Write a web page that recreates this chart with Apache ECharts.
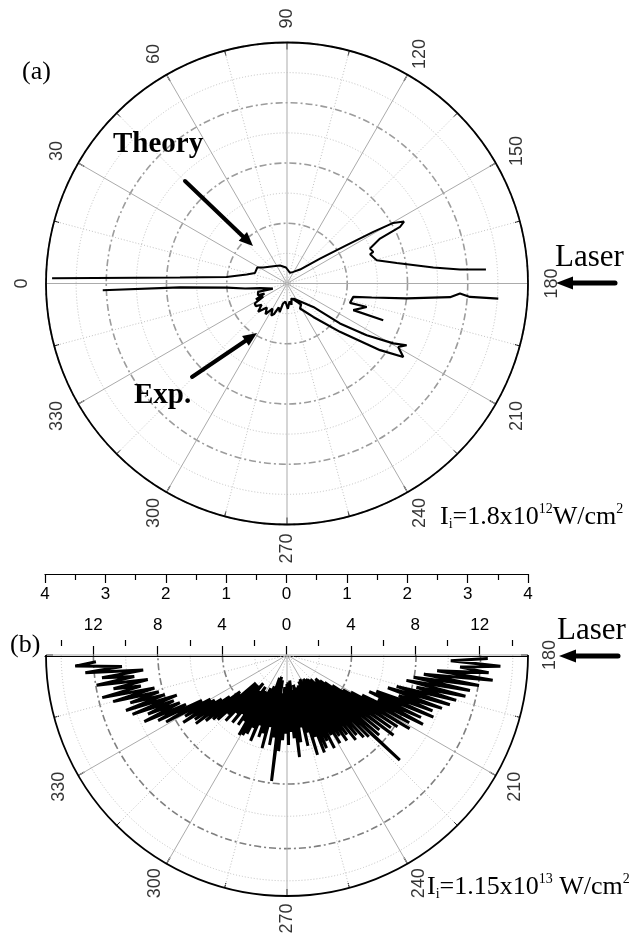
<!DOCTYPE html>
<html>
<head>
<meta charset="utf-8">
<script src="https://cdn.jsdelivr.net/npm/echarts@6.0.0/dist/echarts.min.js"></script>
<style>
html, body { margin: 0; padding: 0; background: #fff; }
#chart { width: 633px; height: 938px; }
</style>
</head>
<body>
<div id="chart"></div>
<script>
// (a) curves: [angle (deg), radius]
const theoryCurve = [
  [1.3, 3.90], [3.2, 1.78], [6.2, 1.01], [12.6, 0.685], [18.3, 0.56], [28.3, 0.56],
  [34, 0.475], [51.6, 0.366], [68.7, 0.32], [86.4, 0.266], [105.8, 0.183], [118.5, 0.22],
  [132.9, 0.317], [142.9, 0.687], [147.3, 1.177], [149.1, 1.669], [150.3, 2.03], [152.1, 2.198],
  [153.4, 2.098], [154.2, 1.715], [157.1, 1.495], [159.9, 1.525], [160.6, 1.461], [165.4, 1.538],
  [169.4, 1.853], [173.8, 2.443], [175.4, 2.88], [176, 3.31]
];
const expRightCurve = [
  [184.1, 3.516], [184.2, 3.045], [183.3, 2.876], [184.8, 2.715], [187.1, 2.0], [189.4, 1.425],
  [191.4, 1.123], [197.1, 1.094], [196.4, 1.379], [201.9, 1.186], [200.9, 1.71]
];
const expMainCurve = [
  [247.2, 0.27], [221.7, 0.584], [217.0, 1.10], [213.0, 1.577], [209.4, 2.026], [207.3, 2.235],
  [209.7, 2.126], [212.3, 2.283], [215.6, 1.90], [222.4, 1.19], [231.8, 0.706], [242.5, 0.468],
  [236, 0.42], [246, 0.30], [253.7, 0.26], [258, 0.36], [262, 0.30], [268, 0.42], [271.5, 0.39],
  [275, 0.30], [281.3, 0.34], [284.4, 0.49], [289, 0.42], [293, 0.55], [296.2, 0.59], [300, 0.48],
  [305, 0.62], [310, 0.52], [315.6, 0.67], [320, 0.55], [324, 0.64], [328.2, 0.63], [331, 0.45],
  [333, 0.58], [335.8, 0.41], [338, 0.52], [343.8, 0.50], [340.3, 0.25], [350, 0.45], [353.2, 0.70],
  [356, 1.0], [357.9, 1.78], [357.9, 3.06]
];

// (b) one reading per degree, starting at 181 deg
const bStartAngle = 181;
const bRadius = [
  12.5, 10.2, 13.3, 10.8, 12.6, 9.4, 12.9, 8.6, 12.1, 8.0,
  11.6, 7.6, 11.4, 8.3, 10.9, 7.1, 10.6, 6.6, 10.2, 7.4,
  9.7, 6.0, 9.9, 5.6, 9.2, 6.3, 9.5, 5.3, 8.7, 4.6,
  8.9, 4.1, 8.2, 3.4, 7.9, 2.9, 8.3, 2.6, 7.4, 2.3,
  7.6, 3.0, 9.6, 2.4, 7.2, 2.1, 7.0, 3.2, 6.6, 2.0,
  6.8, 1.9, 6.2, 2.6, 6.5, 1.8, 6.0, 2.2, 6.4, 1.9,
  5.7, 1.7, 6.5, 2.4, 5.9, 1.8, 6.3, 2.9, 6.5, 2.0,
  5.4, 2.6, 6.5, 2.1, 5.0, 3.0, 5.8, 1.9, 4.6, 2.5,
  5.5, 2.2, 6.4, 1.6, 5.2, 2.8, 4.8, 1.7, 5.6, 1.8,
  4.9, 2.9, 5.3, 2.0, 6.0, 2.4, 7.9, 2.8, 5.2, 1.6,
  5.7, 2.5, 4.6, 1.4, 6.0, 2.2, 5.1, 1.5, 5.4, 2.7,
  4.7, 2.1, 5.8, 2.9, 5.0, 2.3, 5.5, 3.1, 5.7, 2.6,
  5.8, 3.3, 4.9, 2.4, 5.3, 2.8, 4.6, 3.4, 5.4, 2.3,
  4.8, 3.1, 5.6, 2.6, 5.2, 3.5, 5.9, 2.6, 6.1, 3.8,
  6.5, 3.7, 7.1, 4.4, 7.0, 4.9, 7.7, 5.3, 7.4, 5.5,
  8.6, 6.0, 9.0, 7.0, 9.8, 7.3, 9.4, 7.6, 10.3, 7.3,
  10.6, 8.0, 10.2, 8.3, 11.2, 8.5, 11.8, 9.3, 11.0, 8.8,
  12.0, 9.6, 11.6, 9.0, 12.6, 10.3, 13.2, 11.9
];

const angleLabelsA = [0, 30, 60, 90, 120, 150, 180, 210, 240, 270, 300, 330];
const angleLabelsB = [180, 210, 240, 270, 300, 330];
const ticksBMajor = [-12, -8, -4, 0, 4, 8, 12];
const ticksBMinor = [-14, -10, -6, -2, 2, 6, 10, 14];

const serif = 'Liberation Serif, Times New Roman, serif';
const sans = 'Liberation Sans, Arial, sans-serif';
const spokeGray = '#ababab';
const dashDot = { color: '#9c9c9c', width: 1.6, type: [7, 3, 2, 3] };
const dashDotB = { color: '#7f7f7f', width: 1.6, type: [7, 3, 2, 3] };
const dotted = { color: '#c2c2c2', width: 1, type: [1, 2] };

let chart = echarts.init(document.getElementById('chart'));

const toPolar = (pts) => pts.map((p) => [p[1], p[0]]);

function hiddenAngle(idx) {
  return {
    polarIndex: idx, type: 'value', min: 180, max: 360, startAngle: 0, endAngle: -180, clockwise: true,
    axisLine: { show: false }, axisTick: { show: false }, axisLabel: { show: false }, splitLine: { show: false }
  };
}

function arrow(x1, y1, x2, y2, w, hl, hw) {
  const L = Math.hypot(x2 - x1, y2 - y1);
  const ux = (x2 - x1) / L, uy = (y2 - y1) / L;
  const px = -uy, py = ux;
  const bx = x2 - ux * hl, by = y2 - uy * hl;
  return [
    { type: 'line', shape: { x1: x1, y1: y1, x2: bx + ux * 2, y2: by + uy * 2 }, style: { stroke: '#000', lineWidth: w, lineCap: 'round' }, z: 10 },
    { type: 'polygon', shape: { points: [[x2, y2], [bx + px * hw / 2, by + py * hw / 2], [bx - px * hw / 2, by - py * hw / 2]] }, style: { fill: '#000' }, z: 10 }
  ];
}

function label(x, y, text, size, bold) {
  return {
    type: 'text', x: x, y: y, z: 10,
    style: { text: text, fill: '#000', font: (bold ? 'bold ' : '') + size + 'px ' + serif, textVerticalAlign: 'middle', verticalAlign: 'middle' }
  };
}

function intensity(x, y, txt) {
  return {
    type: 'text', x: x, y: y, z: 10,
    style: {
      text: txt, fill: '#000', textVerticalAlign: 'middle', verticalAlign: 'middle',
      rich: {
        m: { fontSize: 26, fontFamily: serif, lineHeight: 29 },
        s: { fontSize: 14, fontFamily: serif, lineHeight: 14, verticalAlign: 'bottom' },
        p: { fontSize: 14, fontFamily: serif, lineHeight: 14, verticalAlign: 'top' }
      }
    }
  };
}

const option = {
  backgroundColor: '#fff',
  animation: false,
  polar: [
    { center: [287, 283.5], radius: 241 },
    { center: [287, 655], radius: 241 },
    { center: [287, 655], radius: 193.6 },
    { center: [287, 655], radius: [32.26, 225.8] }
  ],
  angleAxis: [
    {
      polarIndex: 0, type: 'value', min: 0, max: 360, interval: 30, startAngle: 180, clockwise: true, z: 3,
      axisLine: { lineStyle: { color: '#000', width: 1.8 } },
      axisTick: { inside: true, length: 7, lineStyle: { color: '#000', width: 1.2 } },
      minorTick: { show: true, splitNumber: 2, length: 5, lineStyle: { color: '#000', width: 1 } },
      axisLabel: { show: false },
      splitLine: { show: true, lineStyle: { color: spokeGray, width: 1 } },
      minorSplitLine: { show: true, lineStyle: dotted }
    },
    {
      polarIndex: 1, type: 'value', min: 180, max: 360, interval: 30, startAngle: 0, endAngle: -180, clockwise: true, z: 3,
      axisLine: { lineStyle: { color: '#000', width: 1.8 } },
      axisTick: { inside: true, length: 7, lineStyle: { color: '#000', width: 1.2 } },
      minorTick: { show: true, splitNumber: 2, length: 5, lineStyle: { color: '#000', width: 1 } },
      axisLabel: { show: false },
      splitLine: { show: true, lineStyle: { color: spokeGray, width: 1 } },
      minorSplitLine: { show: true, lineStyle: dotted }
    },
    hiddenAngle(2),
    hiddenAngle(3)
  ],
  radiusAxis: [
    {
      polarIndex: 0, type: 'value', min: 0, max: 4, interval: 1,
      axisLine: { show: false }, axisTick: { show: false }, axisLabel: { show: false },
      minorTick: { show: false, splitNumber: 2 },
      splitLine: { show: true, lineStyle: dashDot },
      minorSplitLine: { show: true, lineStyle: dotted }
    },
    {
      polarIndex: 1, type: 'value', min: 0, max: 15,
      axisLine: { show: false }, axisTick: { show: false }, axisLabel: { show: false }, splitLine: { show: false }
    },
    {
      polarIndex: 2, type: 'value', min: 0, max: 12, interval: 4,
      axisLine: { show: false }, axisTick: { show: false }, axisLabel: { show: false },
      splitLine: { show: true, lineStyle: dashDotB }
    },
    {
      polarIndex: 3, type: 'value', min: 2, max: 14, interval: 4,
      axisLine: { show: false }, axisTick: { show: false }, axisLabel: { show: false },
      splitLine: { show: true, lineStyle: dotted }
    }
  ],
  grid: [
    { left: 45, width: 483, top: 560, height: 14 },
    { left: 45, width: 483, top: 646, height: 10 }
  ],
  xAxis: [
    {
      gridIndex: 0, type: 'value', position: 'bottom', min: -4, max: 4, interval: 1,
      axisLine: { lineStyle: { color: '#000', width: 1.2 } },
      axisTick: { length: 9, lineStyle: { color: '#000', width: 1.2 } },
      minorTick: { show: true, splitNumber: 2, length: 6, lineStyle: { color: '#000', width: 1.2 } },
      axisLabel: { color: '#000', fontSize: 17, fontFamily: sans, margin: 12, formatter: (v) => String(Math.abs(v)) },
      splitLine: { show: false }
    },
    {
      gridIndex: 1, type: 'value', position: 'top', min: -15, max: 15,
      axisLine: { lineStyle: { color: '#000', width: 1.2 } },
      axisTick: { length: 10, customValues: ticksBMajor, lineStyle: { color: '#000', width: 1.2 } },
      axisLabel: { color: '#000', fontSize: 17, fontFamily: sans, margin: 12, customValues: ticksBMajor, formatter: (v) => String(Math.abs(v)) },
      splitLine: { show: false }
    },
    {
      gridIndex: 1, type: 'value', position: 'top', min: -15, max: 15,
      axisLine: { show: false },
      axisTick: { length: 6, customValues: ticksBMinor, lineStyle: { color: '#000', width: 1.2 } },
      axisLabel: { show: false },
      splitLine: { show: false }
    }
  ],
  yAxis: [
    { gridIndex: 0, type: 'value', show: false },
    { gridIndex: 1, type: 'value', show: false }
  ],
  series: [
    {
      name: 'Theory', type: 'line', coordinateSystem: 'polar', polarIndex: 0, z: 5, clip: false,
      showSymbol: false, symbol: 'none', lineStyle: { color: '#000', width: 2 },
      data: toPolar(theoryCurve)
    },
    {
      name: 'Exp. right', type: 'line', coordinateSystem: 'polar', polarIndex: 0, z: 5, clip: false,
      showSymbol: false, symbol: 'none', lineStyle: { color: '#000', width: 2.2 },
      data: toPolar(expRightCurve)
    },
    {
      name: 'Exp.', type: 'line', coordinateSystem: 'polar', polarIndex: 0, z: 5, clip: false,
      showSymbol: false, symbol: 'none', lineStyle: { color: '#000', width: 2.2 },
      data: toPolar(expMainCurve)
    },
    {
      name: '1.15e13', type: 'line', coordinateSystem: 'polar', polarIndex: 1, z: 5, clip: false,
      showSymbol: false, symbol: 'none', lineStyle: { color: '#000', width: 3, join: 'bevel' },
      data: bRadius.map((r, i) => [r, bStartAngle + i])
    },
    {
      name: 'angle labels a', type: 'scatter', coordinateSystem: 'polar', polarIndex: 0, clip: false,
      symbolSize: 1, itemStyle: { color: 'rgba(0,0,0,0)' }, silent: true,
      label: { show: true, position: 'inside', rotate: 90, color: '#000', fontSize: 18, fontFamily: sans, formatter: (p) => String(p.value[1]) },
      data: angleLabelsA.map((a) => [4.4, a])
    },
    {
      name: 'angle labels b', type: 'scatter', coordinateSystem: 'polar', polarIndex: 1, clip: false,
      symbolSize: 1, itemStyle: { color: 'rgba(0,0,0,0)' }, silent: true,
      label: { show: true, position: 'inside', rotate: 90, color: '#000', fontSize: 18, fontFamily: sans, formatter: (p) => String(p.value[1]) },
      data: angleLabelsB.map((a) => [16.4, a])
    }
  ],
  graphic: [
    label(22, 72, '(a)', 26, false),
    label(10, 645, '(b)', 26, false),
    label(113, 145, 'Theory', 29, true),
    label(134, 396, 'Exp.', 29, true),
    label(555, 258, 'Laser', 31, false),
    label(557, 631, 'Laser', 31, false),
    intensity(440, 517, '{m|I}{s|i}{m|=1.8x10}{p|12}{m|W/cm}{p|2}'),
    intensity(427, 887, '{m|I}{s|i}{m|=1.15x10}{p|13}{m| W/cm}{p|2}')
  ]
    .concat(arrow(185, 181, 253, 246, 4, 14, 12))
    .concat(arrow(192, 377, 257, 333, 4, 14, 12))
    .concat(arrow(615, 283, 556, 283, 5, 17, 13))
    .concat(arrow(618, 656, 559, 656, 5, 17, 13))
};

chart.setOption(option);
</script>
</body>
</html>
